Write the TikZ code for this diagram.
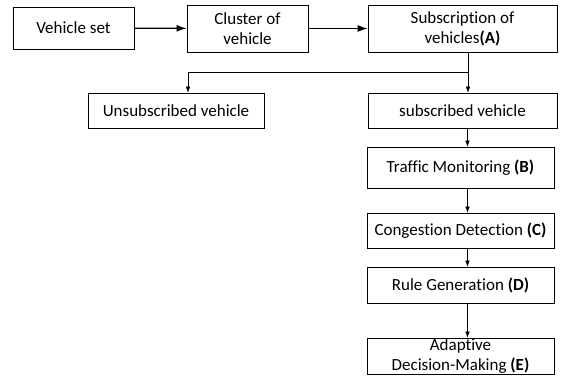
\documentclass[tikz,border=0pt]{standalone}
\usepackage{fontspec}
\setmainfont{Carlito}[RawFeature=-liga]
\usetikzlibrary{arrows.meta}

\begin{document}
\begin{tikzpicture}[x=1pt,y=-1pt,
  stage/.style={draw,thick,fill=white,align=center,inner sep=0pt,
    font=\fontsize{17}{20}\selectfont},
  link/.style={-{Latex[length=10pt,width=7pt]},line width=1.3pt},
  thinlink/.style={-{Latex[length=6pt,width=4.5pt]}}]

\useasboundingbox (0,0) rectangle (567,376);

\node[stage,minimum width=121pt,minimum height=42pt] (vset) at (73.5,28) {Vehicle set};
\node[stage,minimum width=121pt,minimum height=47pt] (cluster) at (247.5,28.5) {Cluster of\\vehicle};
\node[stage,minimum width=189pt,minimum height=47pt] (subscr) at (462.5,28.5) {Subscription of\\vehicles\textbf{(A)}};

\node[stage,minimum width=176pt,minimum height=35pt] (unsub) at (176,110.5) {Unsubscribed vehicle};
\node[stage,minimum width=189pt,minimum height=35pt] (sub) at (462.5,110.5) {subscribed vehicle};

\node[stage,minimum width=187pt,minimum height=41pt] (traffic) at (460.5,167.5) {Traffic Monitoring \textbf{(B)}};
\node[stage,minimum width=187pt,minimum height=35pt] (congest) at (460.5,230.5) {Congestion Detection \textbf{(C)}};
\node[stage,minimum width=187pt,minimum height=36pt] (rulegen) at (460.5,285) {Rule Generation \textbf{(D)}};
\node[stage,minimum width=187pt,minimum height=36pt] (adapt) at (460.5,356) {Adaptive\\Decision-Making \textbf{(E)}};

% columns for the vertical arrows
\coordinate (spine) at (467.5,0);
\coordinate (fork) at (468,72.5);
\coordinate (leftdrop) at (188,72.5);

\draw[link] (vset) -- (cluster);
\draw[link] (cluster) -- (subscr);

\draw (subscr.south -| fork) -- (fork);
\draw[thinlink] (fork) -- (sub.north -| fork);
\draw[thinlink] (fork) -- (leftdrop) -- (unsub.north -| leftdrop);

\draw[thinlink] (sub.south -| spine) -- (traffic.north -| spine);
\draw[thinlink] (traffic.south -| spine) -- (congest.north -| spine);
\draw[thinlink] (congest.south -| spine) -- (rulegen.north -| spine);
\draw[thinlink] (rulegen.south -| spine) -- (adapt.north -| spine);

\end{tikzpicture}
\end{document}
